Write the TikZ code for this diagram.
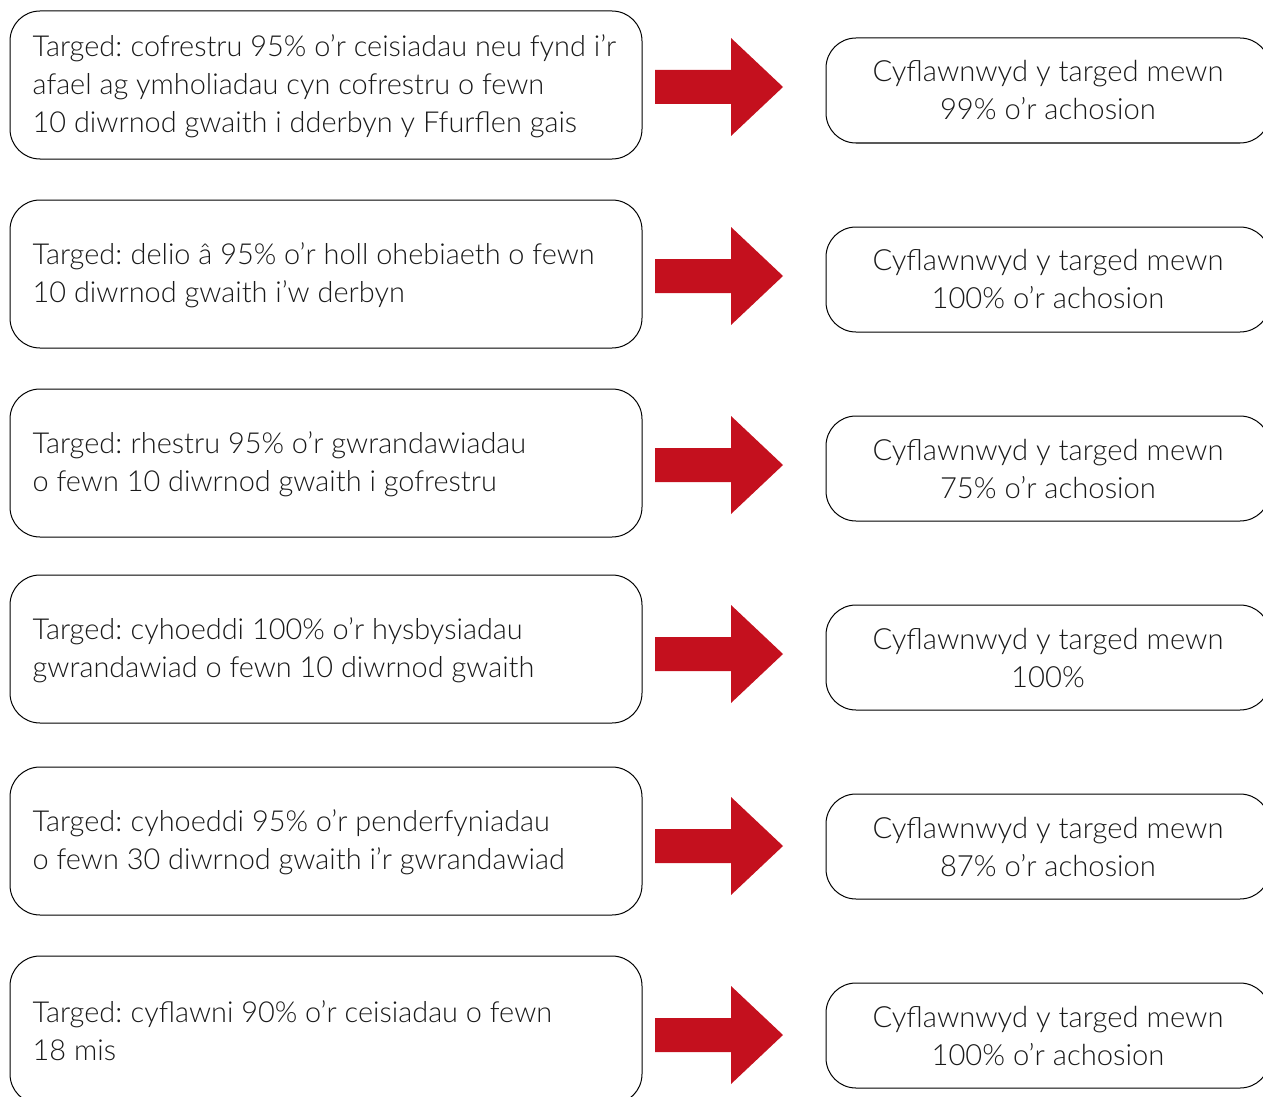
\documentclass[tikz,border=0pt]{standalone}
\usepackage{fontspec}
\setmainfont{Lato}[UprightFont=* Light]
\usetikzlibrary{calc}
\definecolor{arrred}{RGB}{196,16,30}
\definecolor{txt}{RGB}{25,25,25}
\tikzset{
  lbox/.style={draw=black, line width=1pt, rounded corners=30pt, minimum width=632pt, minimum height=148pt, inner sep=0pt},
  rbox/.style={draw=black, line width=1pt, rounded corners=30pt, minimum width=444pt, minimum height=105pt, inner sep=0pt, align=center, text=txt, font=\fontsize{29.2}{38}\selectfont},
  ltext/.style={anchor=west, align=left, inner sep=0pt, text=txt, font=\fontsize{28.9}{38}\selectfont},
  bigarrow/.style={fill=arrred, draw=none}
}
\newcommand{\redarrow}[2]{% name, y center
  \fill[bigarrow] (655,-#2+17) -- (731,-#2+17) -- (731,-#2+49) -- (783,-#2) -- (731,-#2-49) -- (731,-#2-17) -- (655,-#2-17) -- cycle;
}
\begin{document}
\begin{tikzpicture}[x=1pt,y=1pt]
\useasboundingbox (0,0) rectangle (1263,-1097);
% left boxes
\node[lbox] (L1) at (326,-85) {};
\node[lbox] (L2) at (326,-274) {};
\node[lbox] (L3) at (326,-463) {};
\node[lbox] (L4) at (326,-649) {};
\node[lbox] (L5) at (326,-841) {};
\node[lbox] (L6) at (326,-1030) {};
\node[ltext] (T1) at ([xshift=23pt,yshift=-1pt]L1.west) {Targed:\kern-2pt{} cofrestru 95\% o’r ceisiadau neu fynd i’r\\afael ag ymholiadau cyn cofrestru o fewn\\10 diwrnod gwaith i dderbyn y Ffurflen gais};
\node[ltext] (T2) at ([xshift=23pt,yshift=-1pt]L2.west) {Targed:\kern-2pt{} delio â 95\% o’r holl ohebiaeth o fewn\\10 diwrnod gwaith i’w derbyn};
\node[ltext] (T3) at ([xshift=23pt,yshift=-1pt]L3.west) {Targed:\kern-2pt{} rhestru 95\% o’r gwrandawiadau\\o fewn 10 diwrnod gwaith i gofrestru};
\node[ltext] (T4) at ([xshift=23pt,yshift=-1pt]L4.west) {Targed:\kern-2pt{} cyhoeddi 100\% o’r hysbysiadau\\gwrandawiad o fewn 10 diwrnod gwaith};
\node[ltext] (T5) at ([xshift=23pt,yshift=-1pt]L5.west) {Targed:\kern-2pt{} cyhoeddi 95\% o’r penderfyniadau\\o fewn 30 diwrnod gwaith i’r gwrandawiad};
\node[ltext] (T6) at ([xshift=23pt,yshift=-1pt]L6.west) {Targed:\kern-2pt{} cyflawni 90\% o’r ceisiadau o fewn\\18 mis};
% right boxes
\node[rbox] (R1) at (1048,-90.5) {Cyflawnwyd y targed mewn\\99\% o’r achosion};
\node[rbox] (R2) at (1048,-279.5) {Cyflawnwyd y targed mewn\\100\% o’r achosion};
\node[rbox] (R3) at (1048,-468.5) {Cyflawnwyd y targed mewn\\75\% o’r achosion};
\node[rbox] (R4) at (1048,-657.5) {Cyflawnwyd y targed mewn\\100\%};
\node[rbox] (R5) at (1048,-846.5) {Cyflawnwyd y targed mewn\\87\% o’r achosion};
\node[rbox] (R6) at (1048,-1035.5) {Cyflawnwyd y targed mewn\\100\% o’r achosion};
% arrows
\redarrow{A1}{87}
\redarrow{A2}{276}
\redarrow{A3}{465}
\redarrow{A4}{654}
\redarrow{A5}{846}
\redarrow{A6}{1035}
\end{tikzpicture}
\end{document}
